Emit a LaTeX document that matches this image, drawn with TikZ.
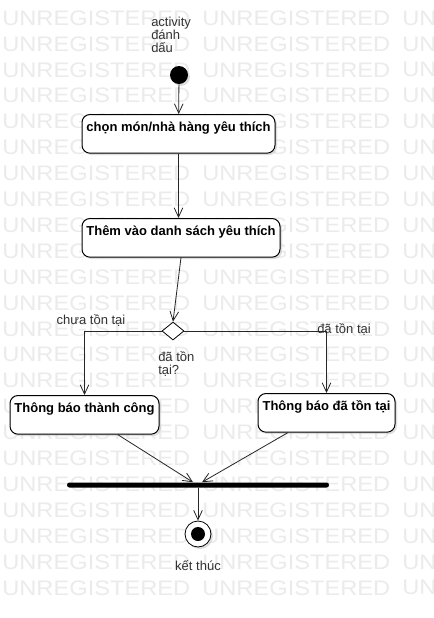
\documentclass[tikz,border=0pt]{standalone}
\usepackage{fontspec}
\setmainfont{Liberation Sans}
\usetikzlibrary{positioning}
\usetikzlibrary{shapes.geometric, arrows.meta, shadows}
\tikzstyle{arrow} = [line width=0.6pt,draw=black!85,-{Straight Barb[length=7pt,width=6.5pt]}]
\tikzstyle{activity} = [draw,line width=0.75pt,fill=white,rounded corners=6pt,inner xsep=3pt,inner ysep=0pt,text height=13pt,text depth=16pt,font=\fontsize{9.75}{11}\selectfont\bfseries,drop shadow={shadow xshift=1.5pt,shadow yshift=-1.5pt,fill=black!25}]
\tikzstyle{guard} = [inner sep=0pt,text=black!80,font=\fontsize{9.75}{9.6}\selectfont,align=left]
\tikzstyle{watermark} = [anchor=west,inner sep=0pt,text=black!8,font=\fontsize{15.75}{16}\selectfont,xscale=1.127]

\begin{document}
\begin{tikzpicture}[x=0.75pt,y=-0.75pt]
								\clip (0,0) rectangle (434,618);
								\fill[white] (0,0) rectangle (434,618);
								
								%Watermark
								\foreach \r in {0,...,22}
									\foreach \c/\w in {0/UNREGISTERED,1/UNREGISTERED,2/UN}
										\node[watermark] (wm-\r-\c) at (2+200*\c,18+25.9*\r) {\w};
								
								%Nodes
								\node [circle,fill=black,minimum size=13.5pt,inner sep=0pt,drop shadow={shadow xshift=1.5pt,shadow yshift=-1.5pt,fill=black!25}] (start) at (179,75) {};
								\node [activity,minimum width=144.75pt,anchor=north] (choose) at (178.5,114) {chọn món/nhà hàng yêu thích};
								\node [activity,minimum width=148.5pt,anchor=north] (addFav) at (181,218) {Thêm vào danh sách yêu thích};
								\node [diamond,draw,line width=0.6pt,fill=white,minimum width=16.5pt,minimum height=13.5pt,inner sep=0pt] (exists) at (173,331) {};
								\node [activity,minimum width=111.75pt,anchor=north] (notifyOk) at (84.5,395) {Thông báo thành công};
								\node [activity,minimum width=102.75pt,anchor=north] (notifyDup) at (326.5,393) {Thông báo đã tồn tại};
								\node [fill=black,minimum width=196.5pt,minimum height=3.75pt,inner sep=0pt,rounded corners=1.8pt] (join) at (198,485) {};
								\node [circle,draw,line width=0.6pt,fill=white,minimum size=19.5pt,inner sep=0pt,drop shadow={shadow xshift=1.5pt,shadow yshift=-1.5pt,fill=black!25}] (stop) at (198,534) {};
								\node [circle,fill=black,minimum size=10.5pt,inner sep=0pt] (stopDot) at (stop) {};
								
								%TextNodes
								\node [guard,anchor=north west] (startText) at (151,17) {activity\\đánh\\dấu};
								\node [guard] (notYet) at (91,320) {chưa tồn tại};
								\node [guard] (already) at (344,329) {đã tồn tại};
								\node [guard,anchor=north west] (question) at (158,351) {đã tồn\\tại?};
								\node [guard,below=10pt of stop] (stopText) {kết thúc};
								
								%Arrows
								\draw[arrow] (start) -- (choose);
								\draw[arrow] (choose.south) -- (choose.south |- addFav.north);
								\draw[arrow] (addFav.south) -- (exists.north);
								\draw[arrow] (exists.west) -| (notifyOk.north);
								\draw[arrow] (exists.east) -| (notifyDup.north);
								\draw[arrow] ([xshift=25pt]notifyOk.south) -- ([xshift=-3.75pt]join.north);
								\draw[arrow] ([xshift=-29pt]notifyDup.south) -- ([xshift=3pt]join.north);
								\draw[arrow] (join.south) -- (stop.north);
							\end{tikzpicture}
\end{document}
